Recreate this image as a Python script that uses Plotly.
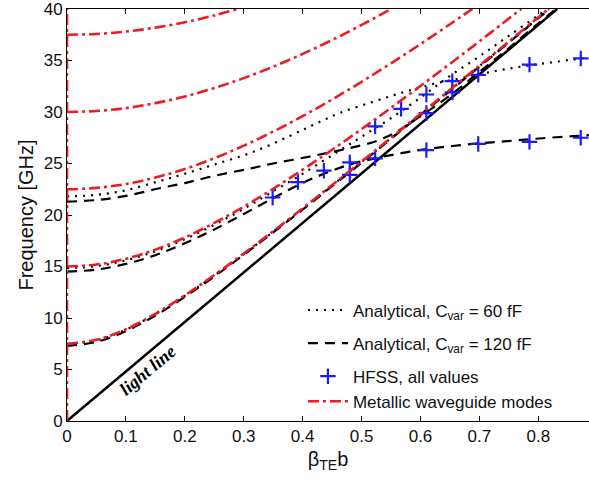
import plotly.graph_objects as go

# ---------------- data ----------------
# light line
light_x = [0.0, 0.832]
light_y = [0.0, 40.0]

# metallic waveguide modes (red dash-dot)
m0_x = [0.0, 0.0]
m0_y = [0.0, 40.0]
m1_x = [0.0, 0.05, 0.1, 0.15, 0.2, 0.25, 0.3, 0.35, 0.4, 0.45, 0.5, 0.55, 0.6, 0.65, 0.7, 0.75, 0.8, 0.817]
m1_y = [7.5, 7.88, 8.91, 10.41, 12.20, 14.17, 16.26, 18.43, 20.65, 22.91, 25.19, 27.50, 29.82, 32.15, 34.50, 36.85, 39.20, 40.0]
m2_x = [0.0, 0.05, 0.1, 0.15, 0.2, 0.25, 0.3, 0.35, 0.4, 0.45, 0.5, 0.55, 0.6, 0.65, 0.7, 0.75, 0.771]
m2_y = [15.0, 15.19, 15.75, 16.64, 17.82, 19.23, 20.81, 22.55, 24.40, 26.33, 28.34, 30.41, 32.53, 34.68, 36.86, 39.07, 40.0]
m3_x = [0.0, 0.05, 0.1, 0.15, 0.2, 0.25, 0.3, 0.35, 0.4, 0.45, 0.5, 0.55, 0.6, 0.65, 0.688]
m3_y = [22.5, 22.63, 23.01, 23.63, 24.47, 25.51, 26.73, 28.10, 29.60, 31.22, 32.93, 34.73, 36.59, 38.52, 40.0]
m4_x = [0.0, 0.05, 0.1, 0.15, 0.2, 0.25, 0.3, 0.35, 0.4, 0.45, 0.5, 0.55]
m4_y = [30.0, 30.10, 30.38, 30.86, 31.50, 32.32, 33.29, 34.40, 35.64, 36.99, 38.45, 40.0]
m5_x = [0.0, 0.05, 0.1, 0.15, 0.2, 0.25, 0.289]
m5_y = [37.5, 37.58, 37.81, 38.19, 38.71, 39.38, 40.0]

# analytical, Cvar = 60 fF (dotted)
a60_1x = [0.0, 0.05, 0.1, 0.15, 0.2, 0.25, 0.3, 0.35, 0.4, 0.45, 0.5, 0.55, 0.6, 0.65, 0.7, 0.75, 0.8, 0.818]
a60_1y = [7.45, 7.83, 8.86, 10.36, 12.15, 14.12, 16.21, 18.38, 20.60, 22.86, 25.14, 27.45, 29.77, 32.10, 34.45, 36.80, 39.15, 40.0]
a60_2x = [0.0, 0.05, 0.1, 0.15, 0.2, 0.25, 0.3, 0.35, 0.4, 0.45, 0.5, 0.55, 0.6, 0.65, 0.7, 0.75, 0.8, 0.815]
a60_2y = [14.85, 15.04, 15.6, 16.48, 17.65, 19.05, 20.6, 22.3, 24.0, 25.8, 27.6, 29.4, 31.4, 33.5, 35.4, 37.4, 39.4, 40.0]
a60_3x = [0.0, 0.05, 0.1, 0.157, 0.2, 0.25, 0.315, 0.379, 0.42, 0.463, 0.52, 0.57, 0.62, 0.67, 0.72, 0.77, 0.82, 0.886]
a60_3y = [21.8, 21.95, 22.4, 23.3, 24.0, 24.9, 26.1, 27.7, 28.8, 29.9, 31.0, 31.9, 32.7, 33.3, 33.9, 34.4, 34.8, 35.3]

# analytical, Cvar = 120 fF (dashed)
a120_1x = [0.0, 0.05, 0.1, 0.15, 0.2, 0.25, 0.3, 0.35, 0.4, 0.45, 0.5, 0.55, 0.6, 0.65, 0.7, 0.75, 0.8, 0.819]
a120_1y = [7.3, 7.68, 8.72, 10.24, 12.05, 14.03, 16.13, 18.31, 20.53, 22.80, 25.08, 27.40, 29.72, 32.05, 34.40, 36.75, 39.10, 40.0]
a120_2x = [0.0, 0.05, 0.1, 0.15, 0.2, 0.25, 0.3, 0.349, 0.392, 0.436, 0.48, 0.523, 0.567, 0.61, 0.654, 0.698, 0.742, 0.785, 0.83, 0.886]
a120_2y = [14.5, 14.7, 15.25, 16.1, 17.25, 18.6, 20.1, 21.6, 22.9, 24.0, 24.9, 25.5, 26.0, 26.4, 26.7, 26.95, 27.15, 27.35, 27.55, 27.75]
a120_3x = [0.0, 0.05, 0.1, 0.157, 0.2, 0.25, 0.31, 0.35, 0.396, 0.44, 0.48, 0.526, 0.56, 0.6, 0.65, 0.7, 0.75, 0.8, 0.83]
a120_3y = [21.3, 21.45, 21.85, 22.6, 23.1, 23.8, 24.5, 25.0, 25.5, 26.0, 26.5, 27.2, 28.1, 29.6, 31.6, 33.9, 36.2, 38.6, 40.0]

# HFSS points
hfss_x = [0.349, 0.392, 0.436, 0.480, 0.480, 0.523, 0.523, 0.567, 0.610, 0.610, 0.610,
          0.654, 0.654, 0.698, 0.698, 0.785, 0.785, 0.872, 0.872]
hfss_y = [21.7, 23.2, 24.3, 25.1, 23.9, 28.6, 25.5, 30.3, 31.7, 29.9, 26.3,
          33.0, 31.9, 33.6, 26.9, 34.6, 27.1, 35.2, 27.5]

x_ticks = [0, 0.1, 0.2, 0.3, 0.4, 0.5, 0.6, 0.7, 0.8]
y_ticks = [0, 5, 10, 15, 20, 25, 30, 35, 40]

# ---------------- styles ----------------
RED = "#ec1c24"
BLUE = "#1a1aff"
FONT = "Arial, Liberation Sans, sans-serif"

fig = go.Figure()

# light line
fig.add_trace(go.Scatter(x=light_x, y=light_y, mode="lines",
                         line=dict(color="black", width=2.5), showlegend=False))

# analytical 60 fF
for i, (xs, ys) in enumerate([(a60_1x, a60_1y), (a60_2x, a60_2y), (a60_3x, a60_3y)]):
    fig.add_trace(go.Scatter(x=xs, y=ys, mode="lines", line_shape="spline",
                             line=dict(color="black", width=2.2, dash="2px,6px"),
                             name="Analytical, C<sub>var</sub> = 60 fF",
                             legendgroup="a60", showlegend=(i == 0), legendrank=1))

# analytical 120 fF
for i, (xs, ys) in enumerate([(a120_1x, a120_1y), (a120_2x, a120_2y), (a120_3x, a120_3y)]):
    fig.add_trace(go.Scatter(x=xs, y=ys, mode="lines", line_shape="spline",
                             line=dict(color="black", width=2.2, dash="10px,7px"),
                             name="Analytical, C<sub>var</sub> = 120 fF",
                             legendgroup="a120", showlegend=(i == 0), legendrank=2))

# HFSS
fig.add_trace(go.Scatter(x=hfss_x, y=hfss_y, mode="markers",
                         marker=dict(symbol="cross-thin", size=11,
                                     line=dict(color=BLUE, width=2.2), color=BLUE),
                         name="HFSS, all values", legendgroup="rest", legendrank=3))

# metallic modes
for i, (xs, ys) in enumerate([(m0_x, m0_y), (m1_x, m1_y), (m2_x, m2_y), (m3_x, m3_y),
                              (m4_x, m4_y), (m5_x, m5_y)]):
    fig.add_trace(go.Scatter(x=xs, y=ys, mode="lines", line_shape="spline",
                             line=dict(color=RED, width=2.6, dash="11px,4px,3px,4px"),
                             name="Metallic waveguide modes",
                             legendgroup="rest", showlegend=(i == 0), legendrank=4))

fig.add_annotation(x=0.137, y=5.0, text="light line", showarrow=False,
                   textangle=-40,
                   font=dict(family="Liberation Serif, Times New Roman, serif",
                             size=18, color="black", style="italic", weight="bold"))

fig.update_layout(
    width=589, height=483,
    margin=dict(l=67, r=0, t=9, b=62),
    paper_bgcolor="white", plot_bgcolor="white",
    font=dict(family=FONT, size=17, color="#111111"),
    legend=dict(x=0.452, y=0.312, xanchor="left", yanchor="top",
                bgcolor="rgba(0,0,0,0)", font=dict(size=17), tracegroupgap=8,
                itemwidth=40),
)
fig.update_xaxes(range=[0, 0.886], tickvals=x_ticks,
                 ticktext=[str(v) if v != 0 else "0" for v in x_ticks],
                 ticks="inside", ticklen=5, tickcolor="black",
                 showline=True, linecolor="black", linewidth=1, mirror="ticks",
                 showgrid=False, zeroline=False, layer="below traces",
                 ticklabeloverflow="allow",
                 title=dict(text="β<sub>TE</sub>b", standoff=6))
fig.update_yaxes(range=[0, 40], tickvals=y_ticks,
                 ticks="inside", ticklen=5, tickcolor="black",
                 showline=True, linecolor="black", linewidth=1, mirror=False,
                 showgrid=False, zeroline=False, layer="below traces",
                 ticklabeloverflow="allow",
                 title=dict(text="Frequency [GHz]", standoff=4))

fig.write_html("out.html")
